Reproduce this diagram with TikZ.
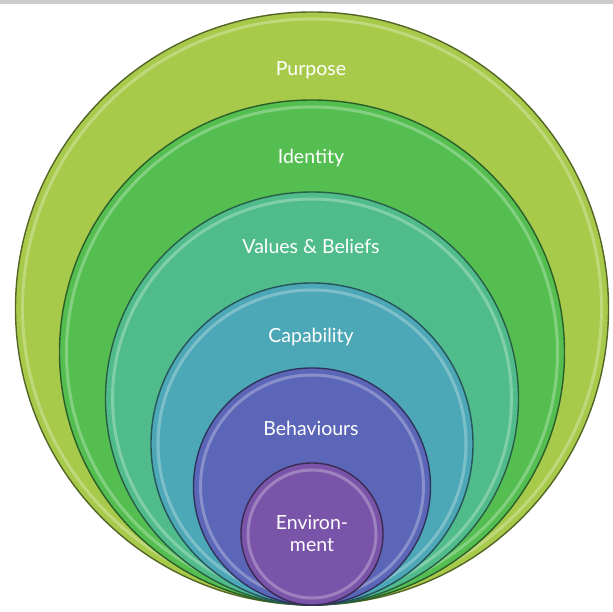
\documentclass[tikz,border=0pt]{standalone}
\usepackage{fontspec}
\setmainfont{Lato}
\usepackage{tikz}
\usetikzlibrary{positioning}

\definecolor{cPurpose}{RGB}{168,202,74}
\definecolor{cIdentity}{RGB}{84,190,80}
\definecolor{cValues}{RGB}{80,188,140}
\definecolor{cCapability}{RGB}{76,168,182}
\definecolor{cBehaviours}{RGB}{92,102,184}
\definecolor{cEnvironment}{RGB}{122,84,168}

\begin{document}
\begin{tikzpicture}[x=1pt, y=1pt]

        \tikzset{
            ring/.style={circle, inner sep=0pt, fill=#1,
                draw=#1!50!black, line width=1.4pt},
            glow/.style={draw=#1!50!white, line width=3pt, opacity=.55},
            lbl/.style={text=white, font=\fontsize{19.5}{22}\selectfont,
                align=center}
        }

        % page and the grey strip along its top
        \useasboundingbox (0, 0) rectangle (613, 612);
        \fill[white] (0, 0) rectangle (613, 612);
        \fill[black!20] (0, 608) rectangle (613, 612);

        % rings, all touching at the bottom
        \foreach\n/\r/\c in {1/296.5/cPurpose, 2/252.5/cIdentity,
            3/206.5/cValues, 4/161/cCapability, 5/118.5/cBehaviours,
            6/71/cEnvironment}
        {
            \node[ring=\c, minimum size=2*\r pt] (C\n) at (312, 7+\r) {};
            \draw[glow=\c] (C\n.center) circle ({\r-7});
        }

        % labels
        \node[lbl] (L1) at (311, 542) {Purpose};
        \node[lbl] (L2) at (311, 454) {Identity};
        \node[lbl] (L3) at (311, 366) {Values \& Beliefs};
        \node[lbl] (L4) at (311, 275) {Capability};
        \node[lbl] (L5) at (311, 184) {Behaviours};
        \node[lbl] (L6) at (312, 79) {Environ-\\ment};

\end{tikzpicture}
\end{document}
